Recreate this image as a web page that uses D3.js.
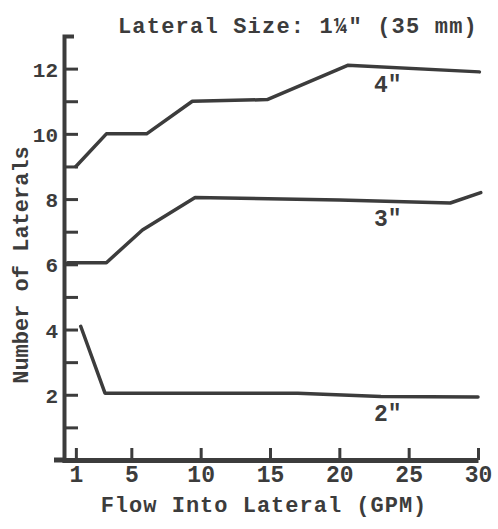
<!DOCTYPE html>
<html>
<head>
<meta charset="utf-8">
<script src="https://cdn.jsdelivr.net/npm/d3@7/dist/d3.min.js"></script>
<style>
  html, body { margin: 0; padding: 0; background: #fff; }
  svg { display: block; }
  text { font-family: "Liberation Mono", "DejaVu Sans Mono", monospace; font-weight: bold; fill: #3c3c3c; }
</style>
</head>
<body>
<svg id="chart" width="498" height="529"></svg>
<script>
// ---- data ----
const xTicks = [1, 5, 10, 15, 20, 25, 30];
const yTicks = [1, 2, 3, 4, 5, 6, 7, 8, 9, 10, 11, 12];
const seriesNames = ['4"', '3"', '2"'];
const flow4 = [1, 3.2, 6.1, 9.4, 14.8, 20.6, 30.1];
const count4 = [9, 10, 10, 11, 11.05, 12.1, 11.9];
const flow3 = [0.4, 3.2, 5.8, 9.6, 20, 28, 30.2];
const count3 = [6.05, 6.05, 7.05, 8.05, 7.97, 7.88, 8.2];
const flow2 = [1.35, 3.1, 17, 23, 30];
const count2 = [4.1, 2.05, 2.05, 1.95, 1.93];
const labelFlow = 23.5;
const titleText = 'Lateral Size: 1\u00BC" (35 mm)';
const xTitle = 'Flow Into Lateral (GPM)';
const yTitle = 'Number of Laterals';

const ink = '#3c3c3c';
const svg = d3.select('#chart');

const x = d3.scaleLinear().domain([0, 30]).range([62, 478]);
const y = d3.scaleLinear().domain([0, 13]).range([460, 36]);

// title
svg.append('text')
  .attr('x', 298).attr('y', 33)
  .attr('text-anchor', 'middle')
  .style('font-size', '22px')
  .style('letter-spacing', '1.2px')
  .text(titleText);

// y axis
const yAxis = d3.axisLeft(y)
  .tickValues(yTicks)
  .tickSizeInner(-14)
  .tickSizeOuter(-10)
  .tickPadding(6)
  .tickFormat(d => d % 2 === 0 ? d : '');
const gy = svg.append('g').attr('transform', `translate(${x(0) + 2},0)`).call(yAxis);
gy.select('.domain').attr('stroke', ink).attr('stroke-width', 4);
gy.selectAll('.tick line').attr('stroke', ink).attr('stroke-width', 3);
gy.selectAll('.tick text').style('font-size', '21px').attr('fill', ink).attr('dy', '0.36em');

// x axis
const xAxis = d3.axisBottom(x)
  .tickValues(xTicks)
  .tickSizeInner(-12)
  .tickSizeOuter(0)
  .tickPadding(8);
const gx = svg.append('g').attr('transform', `translate(0,${y(0)})`).call(xAxis);
gx.select('.domain').attr('stroke', ink).attr('stroke-width', 5);
gx.selectAll('.tick line').attr('stroke', ink).attr('stroke-width', 3);
gx.selectAll('.tick text').style('font-size', '23px').attr('fill', ink).attr('dy', '0.62em');
// short extension of the x axis to the left of the y axis
svg.append('line')
  .attr('x1', x(0) - 8).attr('x2', x(0) + 2)
  .attr('y1', y(0)).attr('y2', y(0))
  .attr('stroke', ink).attr('stroke-width', 5);

// axis titles
svg.append('text')
  .attr('x', 264).attr('y', 512)
  .attr('text-anchor', 'middle')
  .style('font-size', '22px')
  .style('letter-spacing', '1px')
  .text(xTitle);
svg.append('text')
  .attr('transform', 'translate(28,265) rotate(-90)')
  .attr('text-anchor', 'middle')
  .style('font-size', '22px')
  .text(yTitle);

// series
const series = [
  { name: seriesNames[0], xs: flow4, ys: count4 },
  { name: seriesNames[1], xs: flow3, ys: count3 },
  { name: seriesNames[2], xs: flow2, ys: count2 }
];
const line = d3.line().x(d => x(d[0])).y(d => y(d[1]));
series.forEach(s => {
  const pts = s.xs.map((v, i) => [v, s.ys[i]]);
  svg.append('path')
    .attr('d', line(pts))
    .attr('fill', 'none')
    .attr('stroke', ink)
    .attr('stroke-width', 3.5)
    .attr('stroke-linejoin', 'round')
    .attr('stroke-linecap', 'round');
  const at = d3.scaleLinear().domain(s.xs).range(s.ys)(labelFlow);
  svg.append('text')
    .attr('x', x(labelFlow)).attr('y', y(at) + 25)
    .attr('text-anchor', 'middle')
    .style('font-size', '23px')
    .text(s.name);
});
</script>
</body>
</html>
